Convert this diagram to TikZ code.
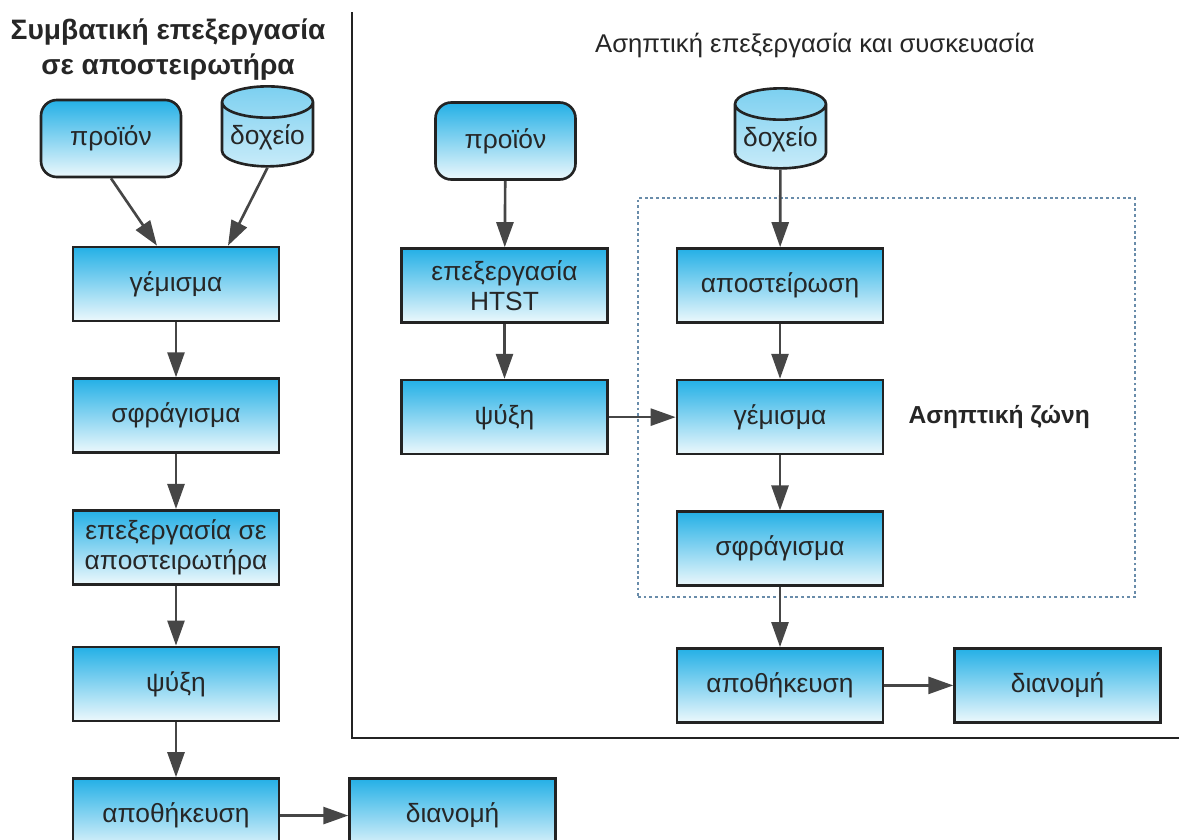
\documentclass[tikz,border=0pt]{standalone}
\usepackage{fontspec}
\setmainfont{Liberation Sans}
\usetikzlibrary{shapes.geometric, arrows.meta, positioning}

\definecolor{boxtop}{RGB}{36,176,230}
\definecolor{boxbot}{RGB}{236,248,252}
\definecolor{edge}{RGB}{35,35,35}
\definecolor{arrowgray}{RGB}{70,70,70}
\definecolor{zonedot}{RGB}{105,140,170}

\begin{document}
\begin{tikzpicture}[
    node distance=1.1cm,
    stage/.style={rectangle, draw=edge, line width=1.5pt, top color=boxtop, middle color=boxtop!50!white, bottom color=boxbot, minimum width=4.12cm, minimum height=1.48cm, align=center, text=black!85, font=\fontsize{15}{17}\selectfont},
    source/.style={stage, rounded corners=9pt, minimum width=2.8cm, minimum height=1.54cm},
    tank/.style={cylinder, shape border rotate=90, aspect=0.4, draw=edge, line width=1.5pt, top color=boxtop!60!white, middle color=boxtop!70!white, bottom color=boxtop!25!white, minimum width=1.82cm, minimum height=1.6cm, inner sep=1pt, text=black!85, font=\fontsize{15}{17}\selectfont},
    arrow/.style={-{Triangle[length=5mm, width=3.4mm]}, line width=1.5pt, color=arrowgray},
    title/.style={align=center, text=black!85, font=\fontsize{16}{20}\selectfont\bfseries},
    headline/.style={text=black!85, font=\fontsize{14.6}{17}\selectfont},
    zone/.style={draw=zonedot, line width=1.6pt, dash pattern=on 1.6pt off 1.6pt, minimum width=9.94cm, minimum height=7.98cm, inner sep=0pt},
    zonelabel/.style={text=black!85, font=\fontsize{14}{16}\selectfont\bfseries},
    divider/.style={line width=1.4pt, draw=edge},
]
\useasboundingbox (0,0) rectangle (23.58,-16.8);

% titles
\node[title] (lefttitle) at (3.36,-0.99) {Συμβατική επεξεργασία\\σε αποστειρωτήρα};
\node[headline] (righttitle) at (16.3,-0.9) {Ασηπτική επεξεργασία και συσκευασία};

% aseptic zone (drawn first, arrows cross it)
\node[zone] (zone) at (17.73,-7.95) {};

% conventional line
\node[source] (prod1) at (2.22,-2.77) {προϊόν};
\node[tank] (tank1) at (5.35,-2.74) {δοχείο};
\node[stage] (fill1) at (3.52,-5.68) {γέμισμα};
\node[stage, below=of fill1] (seal1) {σφράγισμα};
\node[stage, below=of seal1] (retort1) {επεξεργασία σε\\αποστειρωτήρα};
\node[stage, below=1.2cm of retort1] (cool1) {ψύξη};
\node[stage, below=of cool1] (store1) {αποθήκευση};
\node[stage, right=1.36cm of store1] (dist1) {διανομή};

% aseptic line
\node[source] (prod2) at (10.11,-2.82) {προϊόν};
\node[stage] (htst) at (10.09,-5.71) {επεξεργασία\\HTST};
\node[stage, below=of htst] (cool2) {ψύξη};
\node[tank] (tank2) at (15.61,-2.78) {δοχείο};
\node[stage] (steril) at (15.6,-5.71) {αποστείρωση};
\node[stage, below=of steril] (fill2) {γέμισμα};
\node[stage, below=of fill2] (seal2) {σφράγισμα};
\node[stage, below=1.2cm of seal2] (store2) {αποθήκευση};
\node[stage, right=1.38cm of store2] (dist2) {διανομή};
\node[zonelabel, right=0.36cm of fill2] (zonetext) {Ασηπτική ζώνη};

% divider
\coordinate (septop) at (7.04,-0.24);
\coordinate (sepcorner) at (7.04,-14.76);
\coordinate (sepend) at (23.58,-14.76);
\draw[divider] (septop) -- (sepcorner) -- (sepend);

\draw[arrow] (prod1.south) -- ([xshift=-0.38cm]fill1.north);
\draw[arrow] (tank1.south) -- ([xshift=1.04cm]fill1.north);
\draw[arrow] (fill1) -- (seal1);
\draw[arrow] (seal1) -- (retort1);
\draw[arrow] (retort1) -- (cool1);
\draw[arrow] (cool1) -- (store1);
\draw[arrow] (store1) -- (dist1);

\draw[arrow] (prod2) -- (htst);
\draw[arrow] (htst) -- (cool2);
\draw[arrow] (cool2) -- (fill2);
\draw[arrow] (tank2) -- (steril);
\draw[arrow] (steril) -- (fill2);
\draw[arrow] (fill2) -- (seal2);
\draw[arrow] (seal2) -- (store2);
\draw[arrow] (store2) -- (dist2);

\end{tikzpicture}
\end{document}
